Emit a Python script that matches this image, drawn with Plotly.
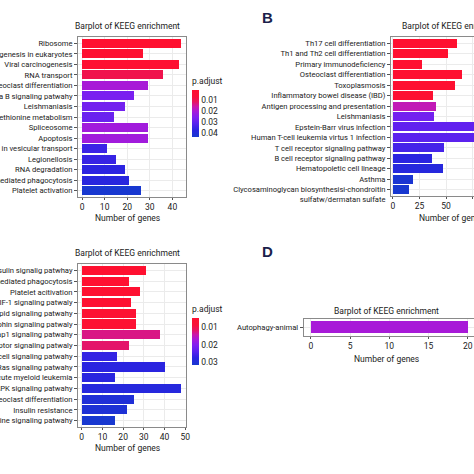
import plotly.graph_objects as go

W = H = 474

# ---------------- data ----------------
a_terms = ["Ribosome", "Ribosome biogenesis in eukaryotes", "Viral carcinogenesis", "RNA transport",
           "Osteoclast differentiation", "NF-kappa B signaling patwahy", "Leishmaniasis",
           "Cysteine and methionine metabolism", "Spliceosome", "Apoptosis",
           "SNARE interactions in vesicular transport", "Legionellosis", "RNA degradation",
           "Fc gamma R-mediated phagocytosis", "Platelet activation"]
a_counts = [44, 27, 43, 36, 29, 23, 19, 14, 29, 29, 11, 15, 19, 21, 26]
a_padj = [0.0007, 0.0016, 0.002, 0.0093, 0.020, 0.0265, 0.0274, 0.0287, 0.021, 0.021,
          0.035, 0.0355, 0.037, 0.038, 0.0437]

b_terms = ["Th17 cell differentiation", "Th1 and Th2 cell differentiation", "Primary immunodeficiency",
           "Osteoclast differentiation", "Toxoplasmosis", "Inflammatory bowel disease (IBD)",
           "Antigen processing and presentation", "Leishmaniasis", "Epstein-Barr virus infection",
           "Human T-cell leukemia virtus 1 infection", "T cell receptor signaling pathway",
           "B cell receptor signaling pathway", "Hematopoietic cell lineage", "Asthma",
           "Clycosaminoglycan biosynthesisi-chondroitin<br>sulfatw/dermatan sulfate"]
b_counts = [60, 52, 27, 65, 58, 38, 41, 39, 95, 92, 48, 37, 47, 19, 15]
b_padj = [0.0002, 0.0004, 0.0005, 0.0006, 0.0008, 0.0012, 0.0115, 0.0187, 0.0205, 0.0211,
          0.0231, 0.0255, 0.0264, 0.0294, 0.030]

c_terms = ["Insulin signalig patwhay", "Fc gamma R-mediated phagocytosis", "Platelet acitivation",
           "HIF-1 signaling patwaly", "Sphingolipid signaling patwahy", "Neurotrophin signaling patwaly",
           "Rap1 signaling patwahy", "T cell receptor signaling patwaly", "B cell signaling patwahy",
           "Ras signaling patwahy", "Acute myeloid leukemia", "MAPK signaling patwahy",
           "Osteoclast differentiation", "Insulin resistance", "Chemokine signaling patwahy"]
c_counts = [31, 23, 28, 24, 26, 26, 38, 23, 17, 40, 16, 48, 25, 22, 16]
c_padj = [0.005, 0.0052, 0.0055, 0.0057, 0.006, 0.0062, 0.013, 0.012, 0.0267, 0.0275,
          0.0278, 0.0283, 0.0297, 0.0302, 0.0315]

d_terms = ["Autophagy-animal"]
d_counts = [20]
d_padj = [0.018]

a_ticks = [0.01, 0.02, 0.03, 0.04]
c_ticks = [0.01, 0.02, 0.03]

# ---------------- style ----------------
FONT = "Roboto, Arial, sans-serif"
LSIZE = 7.6
TXT = "#1a1a1a"
stops = [(0.00, "#FF1030"), (0.15, "#F8123A"), (0.25, "#E81460"), (0.35, "#CC18A8"),
         (0.45, "#A81AD8"), (0.58, "#8020F0"), (0.72, "#5522EE"), (0.85, "#2A24E0"),
         (1.00, "#1838D0")]
cscale = [[round(1 - s, 4), c] for s, c in reversed(stops)]


def px_x(p):
    return p / W


def px_y(p):
    return 1 - p / H


def tick_label(t):
    # keep the first line of a wrapped label level with its bar (as in ggplot output)
    return "&#8203;<br>" + t if "<br>" in t else t


fig = go.Figure()

panels = [
    (a_terms, a_counts, a_padj, "", [-1.8, 45.8], (78, 185.5), (37, 197), 10, "coloraxis"),
    (b_terms, b_counts, b_padj, "2", [-1.7, 76.3], (391, 474), (37, 196), 25, "coloraxis2"),
    (c_terms, c_counts, c_padj, "3", [-1.8, 50.2], (78, 185.7), (264, 427), 10, "coloraxis3"),
    (d_terms, d_counts, d_padj, "4", [-0.93, 20.8], (303.7, 474), (319.3, 335.7), 5, "coloraxis4"),
]

for terms, counts, padj, sfx, xr, xd, yd, dt, cax in panels:
    fig.add_trace(go.Bar(
        x=counts, y=terms, orientation="h",
        marker=dict(color=[-p for p in padj], coloraxis=cax, line=dict(width=0)),
        width=0.86, xaxis="x" + sfx, yaxis="y" + sfx, showlegend=False,
    ))
    n = len(terms)
    open_right = xd[1] >= 474
    fig.layout["xaxis" + sfx] = dict(
        domain=[px_x(xd[0]), min(1, px_x(xd[1]))], anchor="y" + sfx, range=xr,
        dtick=dt, tick0=0, showgrid=True, gridcolor="#EBEBEB", gridwidth=1,
        showline=True, mirror=True, linecolor="#8a8a8a", linewidth=1,
        ticks="outside", ticklen=2, tickcolor="#555", zeroline=False, automargin=False,
        tickfont=dict(family=FONT, size=8.5, color=TXT), fixedrange=True,
    )
    fig.layout["yaxis" + sfx] = dict(
        domain=[px_y(yd[1]), px_y(yd[0])], anchor="x" + sfx, type="category",
        range=[n - 1 + 0.6, -0.6], showgrid=True, gridcolor="#EBEBEB",
        tickmode="array", tickvals=terms, ticktext=[tick_label(t) for t in terms],
        automargin=False,
        showline=True, mirror=not open_right, linecolor="#8a8a8a", linewidth=1,
        ticks="outside", ticklen=3, tickcolor="#555",
        tickfont=dict(family=FONT, size=LSIZE, color=TXT), fixedrange=True,
    )


def cbar(ticks, top, length):
    return dict(
        title=dict(text="p.adjust", side="top", font=dict(family=FONT, size=8.5, color=TXT)),
        x=px_x(192), xanchor="left", y=px_y(top), yanchor="top",
        len=length / H, lenmode="fraction", thickness=7, thicknessmode="pixels",
        xpad=0, ypad=0, outlinewidth=0, ticks="",
        tickvals=[-t for t in ticks], ticktext=[f"{t:.2f}" for t in ticks],
        tickfont=dict(family=FONT, size=8.5, color=TXT),
    )


fig.update_layout(
    width=W, height=H, margin=dict(l=0, r=0, t=0, b=0),
    paper_bgcolor="white", plot_bgcolor="white", bargap=0,
    coloraxis=dict(colorscale=cscale, cmin=-max(a_padj), cmax=-min(a_padj),
                   colorbar=cbar(a_ticks, 75, 62)),
    coloraxis2=dict(colorscale=cscale, cmin=-max(b_padj), cmax=-min(b_padj), showscale=False),
    coloraxis3=dict(colorscale=cscale, cmin=-max(c_padj), cmax=-min(c_padj),
                    colorbar=cbar(c_ticks, 303, 62)),
    coloraxis4=dict(colorscale=cscale, cmin=-0.04, cmax=0.0, showscale=False),
)


def ann(text, x, y, xanchor="center", size=8.5, bold=False, color=TXT, family=FONT):
    fig.add_annotation(
        text=f"<b>{text}</b>" if bold else text, x=px_x(x), y=px_y(y),
        xref="paper", yref="paper", xanchor=xanchor, yanchor="middle",
        showarrow=False, font=dict(family=family, size=size, color=color),
    )


TITLE = "Barplot of KEEG enrichment"
XT = "Number of genes"
ann(TITLE, 127.5, 26)
ann(TITLE, 400, 26, xanchor="left")
ann(TITLE, 127.5, 252.7)
ann(TITLE, 386.5, 311)
ann(XT, 127.5, 218)
ann(XT, 417, 218, xanchor="left")
ann(XT, 127.5, 448)
ann(XT, 386, 359)
ann("B", 267, 18, size=15, bold=True, color="#1b1f4b", family="Arial, Liberation Sans, sans-serif")
ann("D", 267, 251, size=15, bold=True, color="#1b1f4b", family="Arial, Liberation Sans, sans-serif")

fig.write_html("out.html", config={"displayModeBar": False},
               post_script="document.body.style.margin='0';document.body.style.overflow='hidden';")
